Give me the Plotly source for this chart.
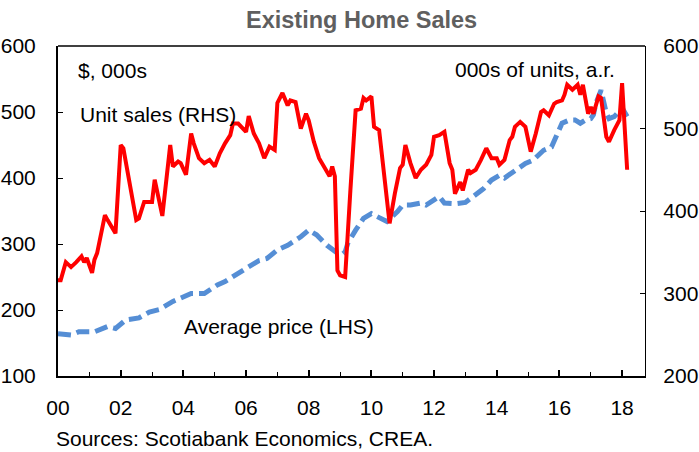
import plotly.graph_objects as go

# ---- data ----
sales_dates = [
    "2000-01", "2000-02", "2000-04", "2000-06", "2000-08", "2000-10", "2000-11", "2000-12",
    "2001-02", "2001-03", "2001-04", "2001-07", "2001-08", "2001-11",
    "2002-01", "2002-02", "2002-07", "2002-08", "2002-10",
    "2003-01", "2003-02", "2003-05", "2003-08", "2003-09", "2003-11", "2003-12",
    "2004-02", "2004-04", "2004-05", "2004-07", "2004-09", "2004-11",
    "2005-01", "2005-03", "2005-05", "2005-07", "2005-08", "2005-10",
    "2006-01", "2006-02", "2006-04", "2006-06", "2006-08", "2006-10", "2006-12",
    "2007-01", "2007-03", "2007-05", "2007-06", "2007-08", "2007-10", "2007-12",
    "2008-01", "2008-03", "2008-05", "2008-07", "2008-09", "2008-10", "2008-11", "2008-12",
    "2009-01", "2009-03", "2009-04", "2009-05", "2009-07", "2009-09", "2009-10", "2009-11",
    "2010-01", "2010-02", "2010-04", "2010-06", "2010-08", "2010-10", "2010-12",
    "2011-01", "2011-02", "2011-04", "2011-06", "2011-08", "2011-10", "2011-12",
    "2012-01", "2012-03", "2012-04", "2012-05", "2012-07", "2012-08", "2012-09", "2012-11", "2012-12",
    "2013-02", "2013-03", "2013-05", "2013-07", "2013-09", "2013-11",
    "2014-01", "2014-02", "2014-04", "2014-06", "2014-07", "2014-08", "2014-10", "2014-12",
    "2015-02", "2015-04", "2015-06", "2015-07", "2015-09", "2015-11", "2015-12",
    "2016-02", "2016-03", "2016-04", "2016-06", "2016-08", "2016-09", "2016-10", "2016-12",
    "2017-01", "2017-02", "2017-04", "2017-05", "2017-07", "2017-08", "2017-10", "2017-12",
    "2018-01", "2018-02", "2018-03",
]
unit_sales = [
    316, 316, 338, 332, 338, 345, 338, 343,
    325, 341, 349, 395, 389, 373,
    480, 476, 389, 391, 411,
    411, 438, 394, 480, 454, 460, 458,
    444, 494, 482, 464, 458, 462,
    454, 470, 482, 492, 506, 506,
    496, 515, 494, 482, 464, 478, 474,
    531, 543, 528, 534, 532, 500, 518,
    510, 484, 464, 452, 442, 454, 442, 328,
    322, 320, 380, 425, 522, 524, 537, 534,
    539, 502, 498, 438, 385, 421, 452,
    456, 480, 458, 440, 450, 456, 468,
    490, 492, 494, 496, 458, 450, 421, 435, 425,
    450, 446, 450, 462, 476, 464,
    464, 456, 462, 486, 490, 502, 508, 502,
    472, 494, 520, 522, 516, 530, 532,
    534, 541, 553, 547, 553, 541, 553, 518,
    526, 518, 539, 537, 490, 484, 498, 510,
    555, 506, 450,
]

price_dates = [
    "2000-01", "2000-06", "2000-09", "2001-03", "2001-08", "2001-11",
    "2002-03", "2002-08", "2002-12", "2003-04", "2003-09", "2003-12",
    "2004-04", "2004-09", "2005-02", "2005-05", "2005-09",
    "2006-01", "2006-06", "2006-09", "2007-01", "2007-05", "2007-10",
    "2008-01", "2008-04", "2008-08", "2008-12", "2009-02", "2009-03", "2009-04",
    "2009-07", "2009-10", "2010-01", "2010-04", "2010-07", "2010-11",
    "2011-01", "2011-04", "2011-08", "2011-10", "2012-01", "2012-03", "2012-05",
    "2012-09", "2013-01", "2013-05", "2013-08", "2013-11",
    "2014-02", "2014-04", "2014-09", "2014-12", "2015-03", "2015-07", "2015-10", "2015-12",
    "2016-02", "2016-05", "2016-07", "2016-09", "2016-11",
    "2017-01", "2017-02", "2017-03", "2017-05", "2017-07", "2017-08", "2017-10", "2017-12",
    "2018-01", "2018-03",
]
avg_price = [
    164, 162, 167, 167, 175, 172,
    185, 188, 197, 201, 213, 218,
    225, 225, 238, 243, 254,
    263, 275, 278, 291, 298, 311,
    321, 314, 298, 286, 285, 288, 301,
    321, 339, 346, 339, 334, 349,
    359, 359, 362, 359, 367, 372, 362,
    361, 363, 374, 384, 397,
    404, 400, 415, 422, 427, 442, 447, 465,
    483, 488, 488, 483, 488,
    490, 496, 513, 533, 498, 490, 493, 500,
    506, 493,
]

x_range = ["2000-01-01", "2018-09-25"]
left_ticks = [100, 200, 300, 400, 500, 600]
right_ticks = [200, 300, 400, 500, 600]

FONT = "Liberation Sans, Arial, sans-serif"
FS = 21

fig = go.Figure()
fig.add_trace(go.Scatter(
    x=price_dates, y=avg_price, mode="lines", yaxis="y",
    line=dict(color="#558ED5", width=5, dash="13px,6px"),
    name="Average price (LHS)",
))
fig.add_trace(go.Scatter(
    x=sales_dates, y=unit_sales, mode="lines", yaxis="y2",
    line=dict(color="#FF0000", width=4),
    name="Unit sales (RHS)",
))

fig.update_layout(
    width=699, height=452,
    margin=dict(l=58, r=54, t=46, b=76, autoexpand=False),
    paper_bgcolor="white", plot_bgcolor="white",
    showlegend=False,
    font=dict(family=FONT, size=FS, color="black"),
    xaxis=dict(
        type="date", range=x_range, automargin=False,
        tick0="2000-01-01", dtick="M24", tickformat="%y",
        ticks="inside", ticklen=6, tickwidth=1.5, tickcolor="black",
        minor=dict(dtick="M12", ticks="inside", ticklen=4, tickwidth=1, tickcolor="black"),
        showline=True, linecolor="black", linewidth=2,
        showgrid=False, zeroline=False,
        ticklabelstandoff=12,
        tickfont=dict(size=FS),
    ),
    yaxis=dict(
        range=[100, 600], tickvals=left_ticks, automargin=False,
        ticks="inside", ticklen=5, tickwidth=1.2, tickcolor="black",
        showline=True, linecolor="black", linewidth=2,
        showgrid=False, zeroline=False,
        ticklabelstandoff=16,
        tickfont=dict(size=FS),
    ),
    yaxis2=dict(
        range=[200, 600], tickvals=right_ticks, automargin=False,
        overlaying="y", side="right",
        ticks="inside", ticklen=5, tickwidth=1.2, tickcolor="black",
        showline=True, linecolor="black", linewidth=1.3,
        showgrid=False, zeroline=False,
        ticklabelstandoff=13,
        tickfont=dict(size=FS),
    ),
    shapes=[dict(type="line", xref="paper", yref="paper", x0=0, x1=1, y0=1, y1=1,
                 line=dict(color="black", width=1.3))],
)

ann = [
    dict(text="<b>Existing Home Sales</b>", x=0.517, y=1.079, xanchor="center", yanchor="middle",
         font=dict(size=23.5, color="#5f5f5f")),
    dict(text="$, 000s", x=0.031, y=0.927, xanchor="left", yanchor="middle"),
    dict(text="Unit sales (RHS)", x=0.034, y=0.791, xanchor="left", yanchor="middle"),
    dict(text="000s of units, a.r.", x=0.952, y=0.930, xanchor="right", yanchor="middle"),
    dict(text="Average price (LHS)", x=0.211, y=0.1515, xanchor="left", yanchor="middle"),
    dict(text="Sources: Scotiabank Economics, CREA.", x=-0.007, y=-0.188,
         xanchor="left", yanchor="middle"),
]
for a in ann:
    a.update(xref="paper", yref="paper", showarrow=False)
    a.setdefault("font", dict(size=FS))
fig.update_layout(annotations=ann)

# remove the page's default 8px body margin so the figure sits at the window's corner
fig.write_html(
    "out.html",
    config={"displayModeBar": False},
    post_script="document.body.style.margin='0';document.body.style.overflow='hidden';",
)
